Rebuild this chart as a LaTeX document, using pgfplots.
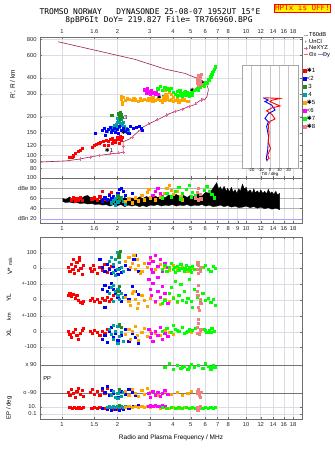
\documentclass[border=0pt]{standalone}
\usepackage{fontspec}
\setmainfont{Liberation Sans}
\newfontfamily\monof{DejaVu Sans Mono}
\newfontfamily\symf{DejaVu Sans}
\usepackage{pgfplots}
\pgfplotsset{compat=1.18}
\definecolor{cR}{HTML}{FF0000}
\definecolor{cB}{HTML}{0000FF}
\definecolor{cG}{HTML}{228B22}
\definecolor{cT}{HTML}{00A0A0}
\definecolor{cO}{HTML}{FFA500}
\definecolor{cM}{HTML}{FF00FF}
\definecolor{cL}{HTML}{00FF00}
\definecolor{cS}{HTML}{F08080}
\definecolor{prof}{HTML}{A0204A}
\definecolor{nexyz}{HTML}{E8609A}
\definecolor{gridc}{HTML}{DCDCE6}
\definecolor{framec}{HTML}{6E6E6E}
\newcommand\tf{\fontsize{5.8}{6.5}\selectfont}
\newcommand\st{{\symf ✱}}
\pgfplotsset{
  /pgfplots/mypanel/.style={scale only axis, width=262bp,
    axis line style={draw=framec, line width=0.6bp},
    tick style={draw=framec, line width=0.4bp},
    major tick length=2bp, xminorticks=false, yminorticks=false,
    grid style={draw=gridc, line width=0.5bp},
    xmajorgrids, ymajorgrids,
    tick label style={font=\tf, text=black!85},
    /pgf/number format/assume math mode=true},
  /pgfplots/myscat/.style={only marks, mark=square*, mark size=1.15bp, color=#1, mark options={line width=0.1bp}},
}
\begin{document}
\begin{tikzpicture}
\path[use as bounding box] (0,0) rectangle (335bp,451bp);
% titles
\node[font=\monof\fontsize{8}{9}\selectfont, inner sep=0] at (150bp,439bp) {TROMSO NORWAY\ \ \ DYNASONDE 25-08-07 1952UT 15°E};
\node[font=\monof\fontsize{8}{9}\selectfont, inner sep=0] at (159bp,431bp) {8pBP6It DoY= 219.827 File= TR766960.BPG};
\node[draw=red, fill=yellow, text=red, font=\monof\fontsize{7.6}{8}\selectfont, inner sep=0.9bp, line width=0.6bp] at (302.5bp,443bp) {HPTx is OFF!};

% ===== top height panel =====
\begin{axis}[mypanel, xmode=log, xmin=0.76, xmax=20.1, at={(40bp,414bp)}, anchor=north west, height=141bp,
  ymode=log, ymin=67, ymax=830,
  xtick={1,1.5,2,3,4,5,6,7,8,10,12,14,16,18},
  xticklabels={1,1.6,2,3,4,5,6,7,8,10,12,14,16,18},
  xticklabel pos=upper,
  ytick={80,90,100,120,150,200,300,400,600,800},
  yticklabels={80,90,100,120,150,200,300,400,600,800},
  legend style={at={(1,1)}, anchor=north west, xshift=1bp, yshift=5.5bp, draw=none, fill=none,
    font=\fontsize{5.8}{6}\selectfont, row sep=0pt, inner sep=0pt,
    nodes={inner sep=0.6bp, text height=4.3bp, text depth=1.1bp}},
  legend cell align=left,
  legend image post style={xscale=0.28},
]
\addlegendimage{black!45, line width=0.6bp}
\addlegendimage{only marks, mark=*, mark size=0.5bp, black}
\addlegendimage{nexyz, mark=+, mark size=1.6bp, line width=0.5bp}
\addlegendimage{cS!80!red, line width=0.6bp}
\legend{T60dB,UnCl,NeXYZ,{Θx\,\textcolor{blue!45}{\rule[1.6bp]{5bp}{0.6bp}}Θy}}
% profile curves
\addplot[prof, line width=0.6bp] coordinates {(0.954,762)(1.51,656)(1.98,600)(2.49,557)(3.63,468)(4.66,433)(5.74,384)(6.12,353)(6.24,325)(6.12,285)(5.94,269)};
\addplot[prof, line width=0.6bp] coordinates {(0.76,89)(1.06,91)(1.25,94)(1.51,99)(1.82,103)(2.07,105)(2.15,106)(2.15,128)(2.34,135)(2.55,150)(2.77,167)(3.01,178)(3.41,194)(3.86,212)(4.11,219)(4.47,228)(4.86,239)(5.17,246)(5.51,262)(5.84,276)(5.94,269)};
\addplot[nexyz, only marks, mark=+, mark size=1.6bp, line width=0.5bp] coordinates {(1.25,94)(1.42,97)(1.6,100)(1.82,103)(2.02,105)(2.15,106)(2.15,118)(2.4,139)(2.65,158)(2.95,176)(3.3,190)(3.7,206)(4.1,219)(4.5,229)(4.9,240)(5.3,252)(5.7,270)};
% echoes
\addplot[myscat=cO] coordinates {(2.1,290)(2.1,275)(2.12,260)(2.12,250)(2.15,283)(2.2,270)(2.3,275)(2.4,268)(2.5,272)(2.6,265)(2.7,270)(2.8,275)(2.9,268)(3.0,272)(3.1,265)(3.2,270)(3.3,275)(3.4,268)(3.5,262)(3.6,270)(3.7,275)(3.8,268)(3.9,272)(4.0,265)(4.1,270)(4.2,275)(4.4,268)(4.6,272)(4.8,265)(3.65,300)(3.7,290)(3.8,310)(4.0,285)(4.2,280)(2.95,280)(3.1,282)(3.6,320)(3.75,335)(3.9,300)(2.25,278)(2.45,276)(2.65,278)(3.55,282)(4.3,262)(4.5,278)};
\addplot[myscat=cM] coordinates {(2.85,320)(2.9,330)(2.95,315)(3.0,310)(3.05,320)(3.1,305)(3.15,312)(3.2,300)(3.25,308)(3.3,298)(3.0,300)(2.88,305)(2.8,325)};
\addplot[myscat=cL] coordinates {(3.3,330)(3.4,345)(3.5,320)(3.6,340)(3.7,330)(3.8,325)(3.9,335)(4.0,310)(4.1,300)(4.2,315)(4.3,295)(4.4,305)(4.5,300)(4.6,310)(4.7,295)(4.8,305)(4.9,300)(5.0,310)(5.1,305)(4.2,290)(4.5,288)(4.35,320)(4.65,318)(4.9,290)(5.2,320)(5.4,330)(5.6,340)(5.8,355)(6.0,370)(6.2,390)(6.4,410)(6.5,430)(6.6,450)(6.7,470)(6.8,490)(5.5,325)(5.9,345)(6.1,365)(6.3,385)(6.55,440)(4.55,295)(4.75,310)(5.05,295)};
\addplot[myscat=cS] coordinates {(5.4,380)(5.45,400)(5.5,420)(5.55,390)(5.6,370)(5.65,360)(5.5,350)(5.7,430)(5.45,365)(5.6,405)};
\addplot[myscat=cT] coordinates {(1.76,155)(1.82,160)(1.87,166)(1.92,172)(1.97,175)(1.99,182)(2.02,185)(2.04,188)(2.07,178)(2.09,172)(2.12,175)(2.17,169)(2.23,163)(2.28,158)(1.94,160)(1.89,158)(2.04,166)(1.99,169)(2.14,182)(2.09,192)(2.0,195)(2.06,200)};
\addplot[myscat=cB] coordinates {(1.51,149)(1.65,158)(1.69,163)(1.73,155)(1.78,160)(1.82,166)(1.87,158)(1.92,163)(1.94,152)(1.99,160)(2.04,169)(2.09,158)(2.14,163)(2.20,155)(2.25,160)(2.34,169)(2.43,163)(2.52,166)(2.62,169)(2.69,163)(2.72,158)(2.02,149)(1.85,152)(1.72,144)(2.3,150)};
\addplot[myscat=cG] coordinates {(1.86,206)(2.02,212)(2.07,218)(2.11,200)(2.07,194)(2.04,205)(2.09,210)};
\addplot[myscat=cR] coordinates {(1.10,97)(1.13,97)(1.18,105)(1.22,108)(1.25,110)(1.28,114)(1.46,116)(1.53,123)(1.61,127)(1.67,130)(1.73,132)(1.78,130)(1.82,134)(1.87,137)(1.95,132)(2.0,139)(2.02,134)(2.07,142)(2.12,139)(1.87,125)(1.78,121)(1.69,121)(2.04,125)(2.09,132)(1.95,127)(1.9,130)(2.05,135)(1.15,100)(1.49,120)(1.58,125)};
\node[font=\tf, inner sep=0] at (axis cs:1.80,110) {\st1};
\node[font=\tf, inner sep=0] at (axis cs:2.20,150) {\st2};
\node[font=\tf, inner sep=0] at (axis cs:2.22,198) {3};
\node[font=\tf, inner sep=0] at (axis cs:3.45,280) {\st5};
\node[font=\tf, inner sep=0] at (axis cs:5.2,320) {\st7};
\node[font=\tf, inner sep=0] at (axis cs:5.9,363) {\st8};
\end{axis}

% ===== dB panel =====
\begin{axis}[mypanel, xmode=log, xmin=0.76, xmax=20.1, at={(40bp,273bp)}, anchor=north west, height=45bp,
  ymin=12, ymax=100,
  xtick={1,1.5,2,3,4,5,6,7,8,9,10,12,14,16,18},
  xticklabels={1,1.6,2,3,4,5,6,7,8,9,10,12,14,16,18},
  ytick={20,40,60,80,100}, yticklabels={dBn 20,40,60,dBe 80,100},
  y grid style={draw=black!30, line width=0.5bp}]
\draw[blue!35, line width=0.6bp] (axis cs:0.76,20) -- (axis cs:20.1,20);
\addplot[fill=black, draw=black, line width=0.3bp] coordinates {(1.01,60)(1.05,58)(1.10,63)(1.15,57)(1.20,61)(1.26,58)(1.32,64)(1.38,66)(1.45,59)(1.52,62)(1.59,56)(1.66,60)(1.74,55)(1.82,59)(1.91,56)(2.0,60)(2.09,57)(2.19,62)(2.29,58)(2.4,61)(2.51,57)(2.63,63)(2.75,60)(2.88,64)(3.02,60)(3.16,66)(3.31,62)(3.47,65)(3.63,61)(3.8,67)(3.98,63)(4.17,68)(4.37,64)(4.57,66)(4.79,62)(5.01,67)(5.25,63)(5.5,69)(5.75,65)(6.03,72)(6.31,70)(6.61,80)(6.92,91)(7.1,78)(7.24,83)(7.4,76)(7.59,84)(7.8,74)(7.94,80)(8.1,73)(8.32,82)(8.5,72)(8.71,77)(8.9,70)(9.12,79)(9.3,74)(9.55,88)(9.8,78)(10.0,82)(10.2,72)(10.5,77)(10.8,70)(11.0,79)(11.2,71)(11.5,75)(11.8,70)(12.0,77)(12.3,70)(12.6,74)(12.9,69)(13.2,78)(13.5,70)(13.8,73)(14.1,68)(14.5,74)(14.8,67)(15.2,70)(15.2,38)(14.5,41)(13.8,39)(13.2,42)(12.6,40)(12.0,43)(11.5,41)(11.0,44)(10.5,42)(10.0,45)(9.55,43)(9.12,42)(8.71,45)(8.32,43)(7.94,46)(7.59,44)(7.24,47)(6.92,45)(6.61,44)(6.31,47)(6.03,45)(5.75,48)(5.5,46)(5.25,47)(5.01,45)(4.79,48)(4.57,46)(4.37,47)(4.17,45)(3.98,48)(3.8,46)(3.63,47)(3.47,45)(3.31,48)(3.16,46)(3.02,47)(2.88,44)(2.75,46)(2.63,44)(2.51,47)(2.4,45)(2.29,47)(2.19,44)(2.09,48)(2.0,46)(1.91,48)(1.82,45)(1.74,48)(1.66,47)(1.59,49)(1.52,48)(1.45,50)(1.38,49)(1.32,51)(1.26,50)(1.2,52)(1.15,51)(1.1,53)(1.05,52)(1.01,54)} -- cycle;
\addplot[myscat=cR] coordinates {(1.12,58)(1.15,62)(1.18,56)(1.2,61)(1.22,58)(1.25,62)(1.28,57)(1.45,60)(1.5,62)(1.55,58)(1.6,64)(1.65,74)(1.7,60)(1.8,68)(1.85,72)};
\addplot[myscat=cB] coordinates {(1.65,56)(1.7,62)(1.75,58)(1.8,66)(1.85,60)(1.9,64)(2.0,70)(2.05,78)(2.1,81)(2.15,74)(2.2,66)(2.3,60)(2.4,70)(2.5,62)};
\addplot[myscat=cT] coordinates {(1.85,52)(1.9,56)(1.95,60)(2.0,54)(2.05,58)(2.1,62)(2.15,55)(2.2,50)(2.0,64)(1.95,48)};
\addplot[myscat=cG] coordinates {(2.0,66)(2.05,62)};
\addplot[myscat=cO] coordinates {(2.2,55)(2.3,60)(2.4,52)(2.5,62)(2.6,56)(2.7,66)(2.8,58)(2.9,72)(3.0,62)(3.2,58)(3.4,64)(3.6,70)(3.7,80)(3.8,86)(3.9,76)(4.0,68)(4.2,74)(4.4,64)(4.5,58)(2.95,78)};
\addplot[myscat=cM] coordinates {(3.1,66)(3.2,74)(3.3,80)(3.4,70)(3.5,64)};
\addplot[myscat=cL] coordinates {(3.5,62)(3.7,70)(3.9,64)(4.1,74)(4.3,82)(4.5,70)(4.7,78)(4.9,86)(5.1,72)(5.3,66)(5.6,60)(5.9,76)(6.1,84)(6.3,74)(6.5,68)(6.7,62)(4.4,60)(5.0,64)};
\addplot[myscat=cS] coordinates {(5.3,62)(5.4,72)(5.5,80)(5.6,68)(5.7,60)(5.5,58)};
\end{axis}

% ===== lower panel =====
\begin{axis}[mypanel, xmode=log, xmin=0.76, xmax=20.1, at={(40bp,214bp)}, anchor=north west, height=182bp,
  ymin=0, ymax=182,
  xtick={1,1.5,2,3,4,5,6,7,8,10,12,14,16,18},
  xticklabels={1,1.5,2,3,4,5,6,7,8,10,12,14,16,18},
  ytick={5,12,26,54,72,87,103,119,135,151,166},
  yticklabels={0.1,10.,o -90,x 90,-100,0,+-100,0,+-100,0,100}]
\draw[black!55, line width=0.6bp] (axis cs:0.76,54) -- (axis cs:20.1,54);
\draw[black!55, line width=0.6bp] (axis cs:0.76,26) -- (axis cs:20.1,26);
\node[font=\tf, anchor=west, inner sep=0] at (axis cs:0.79,40) {PP};
\addplot[myscat=cR] coordinates {(1.08,152)(1.1,148)(1.12,155)(1.14,150)(1.16,146)(1.18,153)(1.2,157)(1.22,149)(1.24,159)(1.26,151)(1.28,145)(1.3,154)(1.42,151)(1.45,148)(1.48,154)(1.5,150)(1.55,146)(1.6,152)(1.65,149)(1.7,155)(1.75,147)(1.8,151)(1.85,153)(1.15,160)(1.24,162)
(1.08,124)(1.1,126)(1.12,123)(1.15,125)(1.18,121)(1.2,124)(1.22,119)(1.25,117)(1.28,116)(1.3,118)(1.42,119)(1.46,121)(1.5,118)(1.55,120)(1.6,117)(1.65,121)(1.7,119)(1.75,122)(1.8,118)(1.85,120)(1.9,124)
(1.08,88)(1.1,85)(1.12,82)(1.15,87)(1.18,90)(1.2,84)(1.22,80)(1.25,86)(1.28,89)(1.3,91)(1.42,88)(1.46,86)(1.5,89)(1.55,87)(1.6,84)(1.65,88)(1.7,86)(1.75,90)
(1.08,27)(1.1,24)(1.12,30)(1.15,26)(1.18,22)(1.2,28)(1.22,31)(1.25,25)(1.28,29)(1.3,23)(1.42,27)(1.46,30)(1.5,25)(1.55,28)(1.6,24)(1.65,29)(1.7,26)(1.75,31)
(1.1,12)(1.13,11)(1.16,12)(1.2,11)(1.23,12)(1.26,11)(1.3,12)(1.45,11)(1.5,12)(1.55,11)(1.6,12)(1.7,11)(1.8,12)(1.9,10)(2.0,10)(2.1,11)};
\addplot[myscat=cB] coordinates {(1.6,160)(1.65,152)(1.7,148)(1.75,155)(1.8,150)(1.85,146)(1.9,153)(1.95,149)(2.0,145)(2.05,151)(2.1,147)(2.2,154)(2.3,150)(2.45,160)(2.5,164)(2.6,148)
(1.65,130)(1.7,134)(1.75,128)(1.8,132)(1.85,136)(1.9,130)(1.95,126)(2.0,122)(2.05,128)(2.1,118)(2.2,124)(2.3,120)(2.4,133)(2.5,128)(2.6,125)(1.7,112)
(1.65,80)(1.7,84)(1.75,77)(1.8,88)(1.85,92)(1.9,82)(1.95,86)(2.0,79)(2.05,95)(2.1,84)(2.2,90)(2.3,78)(2.4,86)(2.5,82)(2.6,76)
(1.65,31)(1.7,27)(1.75,33)(1.8,24)(1.85,29)(1.9,26)(2.0,22)(2.1,28)(2.2,25)(2.3,30)(2.4,27)(2.5,24)
(1.65,11)(1.75,10)(1.85,9)(1.95,10)(2.05,9)(2.15,10)(2.3,11)(2.45,13)(2.6,14)};
\addplot[myscat=cT] coordinates {(1.8,158)(1.85,162)(1.9,155)(1.95,160)(2.0,150)(2.02,165)(2.05,157)(2.1,152)(2.15,148)(1.9,147)(2.0,167)(1.95,144)
(1.8,126)(1.85,132)(1.9,134)(1.95,128)(2.0,124)(2.05,120)(2.1,126)(2.15,122)(2.0,130)(1.9,118)
(1.8,90)(1.85,85)(1.9,80)(1.95,88)(2.0,93)(2.05,83)(2.1,87)(2.15,78)(2.0,76)(1.9,94)
(1.85,24)(1.9,28)(1.95,22)(2.0,26)(2.05,29)(2.1,23)(2.15,27)(2.0,21)
(1.75,12)(1.8,13)(1.85,12)(1.9,13)(1.95,12)(2.0,13)(2.05,12)(2.1,13)(2.15,12)(2.2,13)};
\addplot[myscat=cG] coordinates {(2.05,165)(2.07,168)(2.03,162)(2.05,133)(2.0,128)(2.05,95)(2.1,92)(2.05,30)(2.05,14)};
\addplot[myscat=cO] coordinates {(2.2,158)(2.3,162)(2.35,152)(2.4,156)(2.5,150)(2.55,160)(2.6,154)(2.7,148)(2.8,156)(2.9,152)(3.0,160)(3.2,150)(3.4,155)(3.6,152)(3.8,149)(4.0,154)(4.2,150)(4.5,152)(4.8,148)(5.0,151)(2.45,164)(2.65,146)
(2.2,122)(2.3,118)(2.35,114)(2.4,126)(2.5,120)(2.55,111)(2.6,116)(2.7,124)(2.8,119)(2.9,113)(3.0,121)(3.2,117)(3.4,115)(3.6,120)(3.8,118)(4.0,122)(4.2,117)(4.5,119)(4.8,121)(2.45,128)
(2.2,85)(2.3,90)(2.35,80)(2.4,88)(2.5,93)(2.55,84)(2.6,79)(2.7,87)(2.8,91)(2.9,83)(3.0,88)(3.2,86)(3.4,84)(3.6,89)(3.8,87)(4.0,85)(4.3,88)(4.6,86)(5.0,87)
(2.2,28)(2.3,24)(2.4,30)(2.5,26)(2.6,23)(2.7,29)(2.8,25)(2.9,31)(3.0,27)(3.3,24)(3.6,28)(3.9,25)(4.2,27)(4.5,24)(4.8,26)(5.0,28)
(2.2,12)(2.3,13)(2.4,12)(2.5,13)(2.6,12)(2.7,13)(2.8,12)(2.9,13)(3.0,12)(3.2,13)(3.4,11)(3.6,12)(3.8,11)(4.0,12)(4.3,11)(4.6,12)(5.0,11)};
\addplot[myscat=cM] coordinates {(2.95,156)(3.0,162)(3.05,150)(3.1,158)(3.2,164)(3.3,153)(3.4,160)(3.5,148)(3.6,156)(3.75,152)
(2.95,140)(3.0,130)(3.05,124)(3.1,136)(3.2,118)(3.3,128)(3.4,122)(3.5,133)(3.6,126)(3.75,116)(3.3,142)(3.1,147)
(2.95,90)(3.0,82)(3.05,86)(3.1,78)(3.2,88)(3.3,84)(3.4,92)(3.5,80)(3.6,86)(3.75,83)
(2.95,26)(3.0,22)(3.1,28)(3.2,24)(3.3,27)(3.4,23)(3.5,26)(3.6,29)(3.75,25)
(2.95,13)(3.0,14)(3.1,13)(3.2,14)(3.3,13)(3.4,13)(3.5,14)(3.6,13)};
\addplot[myscat=cL] coordinates {(3.5,150)(3.6,154)(3.7,148)(3.8,152)(3.9,156)(4.0,150)(4.1,147)(4.2,153)(4.3,149)(4.4,155)(4.5,151)(4.6,148)(4.7,154)(4.8,150)(4.9,152)(5.0,147)(5.1,153)(5.2,150)(5.4,155)(5.6,149)(5.8,152)(6.0,154)(6.2,150)(6.4,148)(6.6,153)(6.8,151)(4.05,152)(4.35,151)(4.65,151)(4.95,149)
(3.5,116)(3.6,119)(3.8,126)(3.9,132)(4.0,121)(4.1,138)(4.2,118)(4.3,124)(4.4,135)(4.5,119)(4.6,128)(4.7,117)(4.8,121)(5.0,118)(5.2,130)(5.4,122)(5.6,118)(5.8,126)(6.0,119)(6.2,121)(6.4,117)(6.6,120)(6.8,114)(4.9,140)(5.1,112)
(3.5,88)(3.7,91)(3.9,87)(4.1,90)(4.3,88)(4.5,92)(4.7,87)(4.9,90)(5.1,89)(5.3,91)(5.6,88)(5.9,90)(6.1,87)(6.3,89)(6.5,91)(6.7,88)(4.0,94)(4.6,86)(4.2,89)(4.8,88)(6.0,89)(6.4,87)
(3.6,52)(3.8,56)(4.0,50)(4.2,54)(4.4,51)(4.6,53)(4.8,50)(5.0,55)(5.2,52)(5.5,54)(5.8,51)(6.0,56)(6.2,53)(6.4,50)(6.6,54)(6.8,52)(4.5,52)(4.9,52)(6.5,52)
(3.5,12)(3.7,11)(3.9,12)(4.1,11)(4.3,12)(4.5,11)(4.7,12)(4.9,11)(5.1,12)(5.3,11)(5.5,12)(5.8,11)(6.0,12)(6.2,11)(6.4,12)(6.6,11)(6.8,12)};
\addplot[myscat=cS] coordinates {(5.4,150)(5.5,154)(5.6,148)(5.5,146)(5.45,157)(5.65,152)
(5.4,128)(5.5,134)(5.6,120)(5.5,112)(5.45,124)(5.65,116)(5.55,109)
(5.4,92)(5.5,96)(5.6,88)(5.5,100)(5.45,86)(5.65,90)(5.55,85)
(5.4,26)(5.5,30)(5.6,22)(5.45,28)(5.55,24)(5.65,27)
(5.4,12)(5.5,10)(5.6,13)(5.45,9)(5.55,11)};
\end{axis}

% ===== tilt inset =====
\begin{axis}[scale only axis, at={(242bp,386bp)}, anchor=north west, width=56bp, height=103bp,
  xmin=-30, xmax=30, ymode=log, ymin=80, ymax=503, ytick=\empty,
  xtick={-20,-10,0,10,20}, xticklabels={-20,-10,0,10,20},
  xmajorgrids, grid style={draw=black!22, line width=0.5bp},
  axis line style={draw=black!35, line width=0.6bp}, major tick length=0pt,
  axis background/.style={fill=white},
  tick label style={font=\fontsize{4.2}{4.5}\selectfont, inner sep=0.3bp},
  xlabel={Tilt / deg}, xlabel style={font=\fontsize{4.4}{4.5}\selectfont, inner sep=0pt, yshift=-0.8bp},
  legend style={at={(1,1)}, anchor=north west, xshift=5bp, yshift=-1.5bp, draw=none, fill=none,
    font=\fontsize{6}{6}\selectfont, row sep=0.4bp, inner sep=0pt,
    nodes={inner sep=0.6bp, text height=4.8bp, text depth=1.6bp}},
  legend cell align=left]
\addlegendimage{only marks, mark=square*, mark size=1.5bp, cR}
\addlegendimage{only marks, mark=square*, mark size=1.5bp, cB}
\addlegendimage{only marks, mark=square*, mark size=1.5bp, cG}
\addlegendimage{only marks, mark=square*, mark size=1.5bp, cT}
\addlegendimage{only marks, mark=square*, mark size=1.5bp, cO}
\addlegendimage{only marks, mark=square*, mark size=1.5bp, cM}
\addlegendimage{only marks, mark=square*, mark size=1.5bp, cL}
\addlegendimage{only marks, mark=square*, mark size=1.5bp, cS}
\legend{\st1,<2,\ 3,\ 4,\st5,<6,\st7,\st8}
\addplot[blue, line width=0.9bp] coordinates {(-7.2,280)(-1.8,269)(-5.4,262)(1.8,246)(5.4,225)(-1.8,211)(-5.4,194)(-1.8,182)(-3.6,168)(-1.5,140)(-2.5,110)(-4,95)(-3,90)};
\addplot[red, line width=0.9bp] coordinates {(-5.4,280)(10.8,277)(2,268)(0,262)(6,250)(10.8,242)(2,234)(-3.6,222)(2,208)(5.4,192)(0,184)(-1.8,172)(-1,150)(-1.8,128)(0.5,113)(-2.5,101)(-1,95)(-3.6,92)};
\end{axis}

% axis titles
\node[rotate=90, font=\fontsize{6.5}{7}\selectfont, inner sep=0] at (13bp,367bp) {R', R / km};
\node[rotate=90, font=\fontsize{6.5}{7}\selectfont, inner sep=0] at (10bp,185bp) {V* {\fontsize{5}{5}\selectfont m/s}};
\node[rotate=90, font=\fontsize{6.5}{7}\selectfont, inner sep=0] at (9bp,153bp) {YL};
\node[rotate=90, font=\fontsize{5.5}{6}\selectfont, inner sep=0] at (9bp,134bp) {km};
\node[rotate=90, font=\fontsize{6.5}{7}\selectfont, inner sep=0] at (9bp,118bp) {XL};
\node[rotate=90, font=\fontsize{6}{7}\selectfont, inner sep=0] at (9bp,43bp) {EP / deg};
\node[font=\fontsize{6.5}{7}\selectfont, inner sep=0] at (171bp,13bp) {Radio and Plasma Frequency / MHz};
\end{tikzpicture}
\end{document}
